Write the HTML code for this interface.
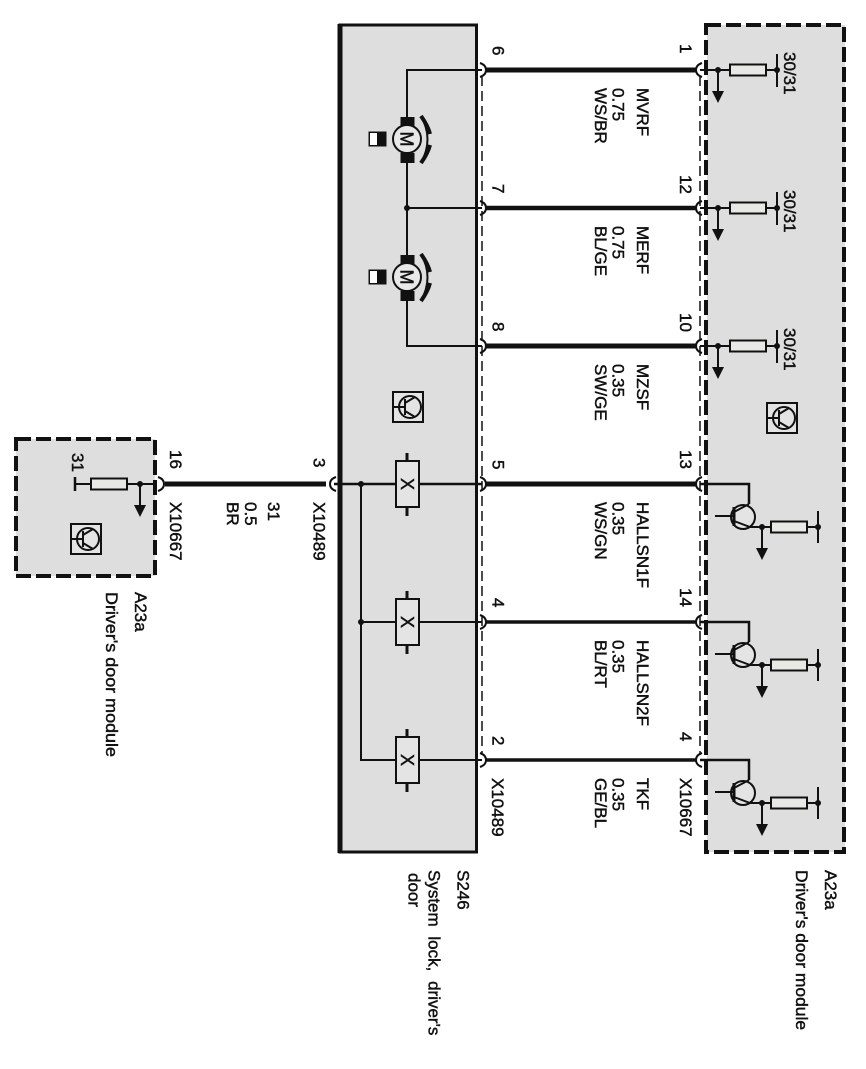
<!DOCTYPE html>
<html><head><meta charset="utf-8"><style>
html,body{margin:0;padding:0;background:#fff}
svg{display:block}
text{font-family:"Liberation Sans",sans-serif;font-size:17px;fill:#111;stroke:#111;stroke-width:.45}
</style></head><body>
<svg width="866" height="1069" viewBox="0 0 866 1069" xmlns="http://www.w3.org/2000/svg">
<defs>
<g id="res"><rect x="0" y="-5.500" width="36" height="11" fill="#e8e8e4" stroke="#111" stroke-width="2"/></g>
<g id="arrow"><line x1="0" y1="0" x2="0" y2="22" stroke="#111" stroke-width="2"/><path d="M-6 21H6L0 33Z" fill="#111"/><circle r="3" fill="#111"/></g>
<g id="inGroup">
<line x1="700" y1="0" x2="731" y2="0" stroke="#111" stroke-width="2"/>
<use href="#arrow" x="718" y="0"/>
<use href="#res" x="730" y="0"/>
<line x1="766" y1="0" x2="777" y2="0" stroke="#111" stroke-width="2"/>
<line x1="777" y1="-16" x2="777" y2="17" stroke="#111" stroke-width="2"/>
<circle cx="777" cy="0" r="3" fill="#111"/>
</g>
<g id="trans">
<path d="M700 0H749V20" fill="none" stroke="#111" stroke-width="2.500"/>
<circle cx="743" cy="33" r="12" fill="#e4e4e4" stroke="#111" stroke-width="2"/>
<line x1="715" y1="32" x2="734" y2="32" stroke="#111" stroke-width="2"/>
<line x1="734" y1="23" x2="734" y2="42" stroke="#111" stroke-width="3"/>
<path d="M734 28L749 20M734 37L750 43H771" fill="none" stroke="#111" stroke-width="2"/>
<use href="#arrow" x="762" y="43"/>
<use href="#res" x="771" y="43"/>
<line x1="807" y1="43" x2="818" y2="43" stroke="#111" stroke-width="2"/>
<line x1="818" y1="27" x2="818" y2="59" stroke="#111" stroke-width="2"/>
<circle cx="818" cy="43" r="3" fill="#111"/>
</g>
<g id="xbox">
<line x1="407" y1="-31" x2="407" y2="32" stroke="#111" stroke-width="3"/>
<rect x="396" y="-23" width="23" height="46" fill="#e4e4e4" stroke="#111" stroke-width="2"/>
</g>
<g id="motor">
<rect x="400.500" y="-22" width="14" height="10" fill="#111"/>
<rect x="400.500" y="14" width="14" height="10" fill="#111"/>
<circle cx="407" cy="0" r="14" fill="#e8e8e8" stroke="#111" stroke-width="2"/>
<path d="M421 -23Q434 0 421 24" fill="none" stroke="#111" stroke-width="2"/>
<path d="M421 -23Q428 -13 430 -5M430 6Q428 14 421 24" fill="none" stroke="#111" stroke-width="4"/>
<rect x="368.500" y="-7.500" width="18" height="15" fill="#111"/>
<rect x="370" y="-6" width="7" height="12" fill="#fff"/>
</g>
<g id="icon">
<rect x="-15" y="-15" width="30" height="30" fill="#e4e4e4" stroke="#111" stroke-width="2"/>
<circle cx="2" cy="0" r="11" fill="none" stroke="#111" stroke-width="2"/>
<path d="M-14 0H-3M-3 -8V8M-3 -4L7 -10M-3 4L7 10" fill="none" stroke="#111" stroke-width="2"/>
</g>
<path id="cr" d="M-4 -7Q2 -5 2 0Q2 5 -4 7" fill="none" stroke="#111" stroke-width="2"/>
<path id="cl" d="M4 -7Q-2 -5 -2 0Q-2 5 4 7" fill="none" stroke="#111" stroke-width="2"/>
</defs>

<!-- boxes -->
<rect x="707" y="25" width="138" height="827" fill="#dedede"/>
<rect x="706" y="25" width="138" height="827" fill="none" stroke="#111" stroke-width="4" stroke-dasharray="15 5"/>
<rect x="339.500" y="25" width="137" height="827" fill="#dedede"/>
<rect x="340" y="25" width="136.500" height="827" fill="none" stroke="#111" stroke-width="3"/>
<line x1="340" y1="24" x2="340" y2="853" stroke="#111" stroke-width="5"/>
<rect x="16" y="439" width="139" height="137" fill="#dedede"/>
<rect x="16" y="439" width="139" height="137" fill="none" stroke="#111" stroke-width="4" stroke-dasharray="15 5"/>

<!-- connector dashes -->
<line x1="482" y1="76" x2="482" y2="755" stroke="#111" stroke-width="1.500" stroke-dasharray="10 5"/>
<line x1="700" y1="76" x2="700" y2="755" stroke="#111" stroke-width="1.500" stroke-dasharray="10 5"/>

<!-- wires -->
<g stroke="#111" fill="none">
<line x1="486" y1="70" x2="697" y2="70" stroke-width="5"/>
<line x1="486" y1="208" x2="697" y2="208" stroke-width="4.500"/>
<line x1="486" y1="346" x2="697" y2="346" stroke-width="5"/>
<line x1="486" y1="484" x2="697" y2="484" stroke-width="5"/>
<line x1="486" y1="622" x2="697" y2="622" stroke-width="3.500"/>
<line x1="486" y1="760" x2="697" y2="760" stroke-width="3.500"/>
<line x1="165" y1="484" x2="326" y2="484" stroke-width="5"/>
<!-- motor wiring -->
<path d="M482 70H407V346H482M407 208H482" stroke-width="2"/>
<!-- hall wiring -->
<line x1="334" y1="484" x2="482" y2="484" stroke-width="2.500"/>
<path d="M361 484V760H482M361 622H482" stroke-width="2"/>
</g>
<circle cx="407" cy="208" r="3" fill="#111"/>
<circle cx="361" cy="484" r="3" fill="#111"/>
<circle cx="361" cy="622" r="3" fill="#111"/>

<!-- connector arcs -->
<use href="#cr" x="484" y="70"/><use href="#cr" x="484" y="208"/><use href="#cr" x="484" y="346"/>
<use href="#cr" x="484" y="484"/><use href="#cr" x="484" y="622"/><use href="#cr" x="484" y="760"/>
<use href="#cl" x="698" y="70"/><use href="#cl" x="698" y="208"/><use href="#cl" x="698" y="346"/>
<use href="#cl" x="698" y="484"/><use href="#cl" x="698" y="622"/><use href="#cl" x="698" y="760"/>
<use href="#cr" x="162" y="484"/><use href="#cl" x="332" y="484"/>

<!-- symbols -->
<use href="#motor" x="0" y="139"/>
<use href="#motor" x="0" y="277"/>
<use href="#xbox" x="0" y="484"/><use href="#xbox" x="0" y="622"/><use href="#xbox" x="0" y="760"/>
<use href="#icon" x="408" y="407"/>
<use href="#icon" x="782" y="418"/>
<use href="#icon" x="86" y="539"/>
<use href="#inGroup" x="0" y="70"/><use href="#inGroup" x="0" y="208"/><use href="#inGroup" x="0" y="346"/>
<use href="#trans" x="0" y="484"/><use href="#trans" x="0" y="622"/><use href="#trans" x="0" y="760"/>

<!-- left module -->
<g stroke="#111" fill="none" stroke-width="2">
<line x1="155" y1="484" x2="128" y2="484"/>
<line x1="91" y1="484" x2="76" y2="484"/>
<line x1="75" y1="477" x2="75" y2="491" stroke-width="2.500"/>
</g>
<use href="#res" x="91" y="484"/>
<use href="#arrow" x="140" y="484"/>

<!-- symbol letters -->
<text transform="translate(400.500,131.500) rotate(90)" style="font-size:18px">M</text>
<text transform="translate(400.500,269.500) rotate(90)" style="font-size:18px">M</text>
<text transform="translate(401,478) rotate(90)" style="font-size:18px">X</text>
<text transform="translate(401,616) rotate(90)" style="font-size:18px">X</text>
<text transform="translate(401,754) rotate(90)" style="font-size:18px">X</text>

<!-- labels -->
<g>
<text transform="translate(784,52) rotate(90)">30/31</text>
<text transform="translate(784,190) rotate(90)">30/31</text>
<text transform="translate(784,328) rotate(90)">30/31</text>
<text transform="translate(72,453) rotate(90)">31</text>

<text transform="translate(492.500,46) rotate(90)">6</text>
<text transform="translate(492.500,184) rotate(90)">7</text>
<text transform="translate(492.500,322) rotate(90)">8</text>
<text transform="translate(492.500,460) rotate(90)">5</text>
<text transform="translate(492.500,598) rotate(90)">4</text>
<text transform="translate(492.500,736) rotate(90)">2</text>
<text transform="translate(680,44) rotate(90)">1</text>
<text transform="translate(680,175) rotate(90)">12</text>
<text transform="translate(680,313) rotate(90)">10</text>
<text transform="translate(680,450) rotate(90)">13</text>
<text transform="translate(680,588) rotate(90)">14</text>
<text transform="translate(680,732) rotate(90)">4</text>
<text transform="translate(170,450) rotate(90)">16</text>
<text transform="translate(313.500,458) rotate(90)">3</text>

<text transform="translate(170,502) rotate(90)">X10667</text>
<text transform="translate(313.500,502) rotate(90)">X10489</text>
<text transform="translate(492,778) rotate(90)">X10489</text>
<text transform="translate(680,778) rotate(90)">X10667</text>

<text transform="translate(268,502) rotate(90)">31</text>
<text transform="translate(245,502) rotate(90)">0.5</text>
<text transform="translate(227,502) rotate(90)">BR</text>

<text transform="translate(637,88) rotate(90)">MVRF</text>
<text transform="translate(612.500,88) rotate(90)">0.75</text>
<text transform="translate(595,88) rotate(90)">WS/BR</text>
<text transform="translate(637,226) rotate(90)">MERF</text>
<text transform="translate(612.500,226) rotate(90)">0.75</text>
<text transform="translate(595,226) rotate(90)">BL/GE</text>
<text transform="translate(637,364) rotate(90)">MZSF</text>
<text transform="translate(612.500,364) rotate(90)">0.35</text>
<text transform="translate(595,364) rotate(90)">SW/GE</text>
<text transform="translate(637,502) rotate(90)">HALLSN1F</text>
<text transform="translate(612.500,502) rotate(90)">0.35</text>
<text transform="translate(595,502) rotate(90)">WS/GN</text>
<text transform="translate(637,640) rotate(90)">HALLSN2F</text>
<text transform="translate(612.500,640) rotate(90)">0.35</text>
<text transform="translate(595,640) rotate(90)">BL/RT</text>
<text transform="translate(637,778) rotate(90)">TKF</text>
<text transform="translate(612.500,778) rotate(90)">0.35</text>
<text transform="translate(595,778) rotate(90)">GE/BL</text>

<text transform="translate(457.500,870) rotate(90)">S246</text>
<text transform="translate(428.500,870) rotate(90)" word-spacing="5">System lock, driver's</text>
<text transform="translate(408.500,873) rotate(90)">door</text>
<text transform="translate(825,870) rotate(90)">A23a</text>
<text transform="translate(796,870) rotate(90)" textLength="160" lengthAdjust="spacingAndGlyphs">Driver's door module</text>
<text transform="translate(135,592) rotate(90)">A23a</text>
<text transform="translate(106,592) rotate(90)" textLength="165" lengthAdjust="spacingAndGlyphs">Driver's door module</text>
</g>
</svg>
</body></html>
